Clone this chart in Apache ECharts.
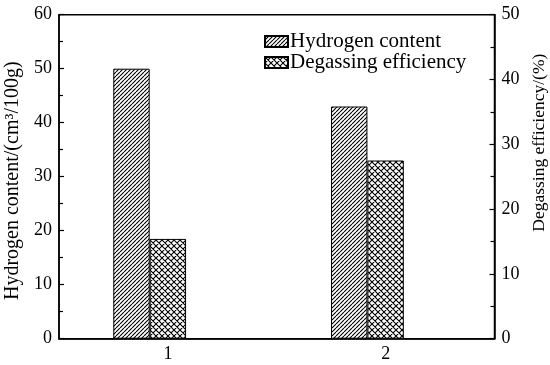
<!DOCTYPE html>
<html>
<head>
<meta charset="utf-8">
<script src="https://cdn.jsdelivr.net/npm/echarts@6/dist/echarts.min.js"></script>
<style>html,body{margin:0;padding:0;background:#fff}#c{width:550px;height:365px}</style>
</head>
<body>
<div id="c"></div>
<script>
const categories = ['1', '2'];
const hydrogenContent = [50, 43];
const degassingEfficiency = [15.4, 27.5];
const leftTicks = [0, 10, 20, 30, 40, 50, 60];
const rightTicks = [0, 10, 20, 30, 40, 50];

function hatch(p, cross) {
  const c = document.createElement('canvas');
  c.width = p; c.height = p;
  const g = c.getContext('2d');
  g.fillStyle = '#fff'; g.fillRect(0, 0, p, p);
  g.strokeStyle = '#000'; g.lineWidth = 1.1;
  g.beginPath();
  for (let k = -1; k <= 1; k++) {
    g.moveTo(k * p, p); g.lineTo(k * p + p, 0);
    if (cross) { g.moveTo(k * p, 0); g.lineTo(k * p + p, p); }
  }
  g.stroke();
  return c;
}
const patH = { image: hatch(4, false), repeat: 'repeat' };
const patD = { image: hatch(6, true), repeat: 'repeat' };

const font = 'Liberation Serif';
const chart = echarts.init(document.getElementById('c'));
chart.setOption({
  animation: false,
  textStyle: { fontFamily: font, color: '#000' },
  grid: { left: 59, right: 55.5, top: 14.7, bottom: 26.3, show: true, borderColor: '#000', borderWidth: 1.5,
    backgroundColor: 'transparent', containLabel: false, outerBoundsMode: 'none' },
  legend: {
    orient: 'vertical', left: 264, top: 31, padding: 0, itemWidth: 23, itemHeight: 11, itemGap: 0,
    data: ['Hydrogen content', 'Degassing efficiency'],
    textStyle: { fontFamily: font, fontSize: 21, color: '#000', padding: [0, 0, 0, -3] },
    icon: 'rect'
  },
  xAxis: {
    type: 'category', data: categories,
    axisLine: { lineStyle: { color: '#000', width: 1.5 } },
    axisTick: { show: false },
    axisLabel: { fontFamily: font, fontSize: 18, color: '#000', margin: 7 }
  },
  yAxis: [
    {
      type: 'value', min: 0, max: 60, interval: 10, position: 'left',
      name: 'Hydrogen content/(cm³/100g)', nameLocation: 'middle', nameRotate: 90, nameGap: 32,
      nameTextStyle: { fontFamily: font, fontSize: 20, color: '#000', padding: [0, 8, 0, 0] },
      axisLine: { show: true, lineStyle: { color: '#000', width: 1.5 } },
      axisTick: { show: true, inside: true, length: 5, lineStyle: { color: '#000', width: 1.2 } },
      minorTick: { show: true, splitNumber: 2, length: 4, lineStyle: { color: '#000', width: 1.2 } },
      splitLine: { show: false },
      axisLabel: { fontFamily: font, fontSize: 18, color: '#000', margin: 7,
        formatter: v => leftTicks.includes(v) ? String(v) : '' }
    },
    {
      type: 'value', min: 0, max: 50, interval: 10, position: 'right',
      name: 'Degassing efficiency/(%)', nameLocation: 'middle', nameRotate: 90, nameGap: 32,
      nameTextStyle: { fontFamily: font, fontSize: 17.5, color: '#000', padding: [0, 0, 0, 68] },
      axisLine: { show: true, lineStyle: { color: '#000', width: 1.5 } },
      axisTick: { show: true, inside: true, length: 5, lineStyle: { color: '#000', width: 1.2 } },
      minorTick: { show: true, splitNumber: 2, length: 4, lineStyle: { color: '#000', width: 1.2 } },
      splitLine: { show: false },
      axisLabel: { fontFamily: font, fontSize: 18, color: '#000', margin: 7,
        formatter: v => rightTicks.includes(v) ? String(v) : '' }
    }
  ],
  series: [
    { name: 'Hydrogen content', type: 'bar', yAxisIndex: 0, data: hydrogenContent, barWidth: 36.4, barGap: '0%',
      itemStyle: { color: patH, borderColor: '#000', borderWidth: 1 } },
    { name: 'Degassing efficiency', type: 'bar', yAxisIndex: 1, data: degassingEfficiency, barWidth: 36.4, barGap: '0%',
      itemStyle: { color: patD, borderColor: '#000', borderWidth: 1 } },
    { name: 'spacer', type: 'bar', yAxisIndex: 0, data: [null, null], barWidth: 36.4, barGap: '0%', silent: true }
  ]
});
</script>
</body>
</html>
